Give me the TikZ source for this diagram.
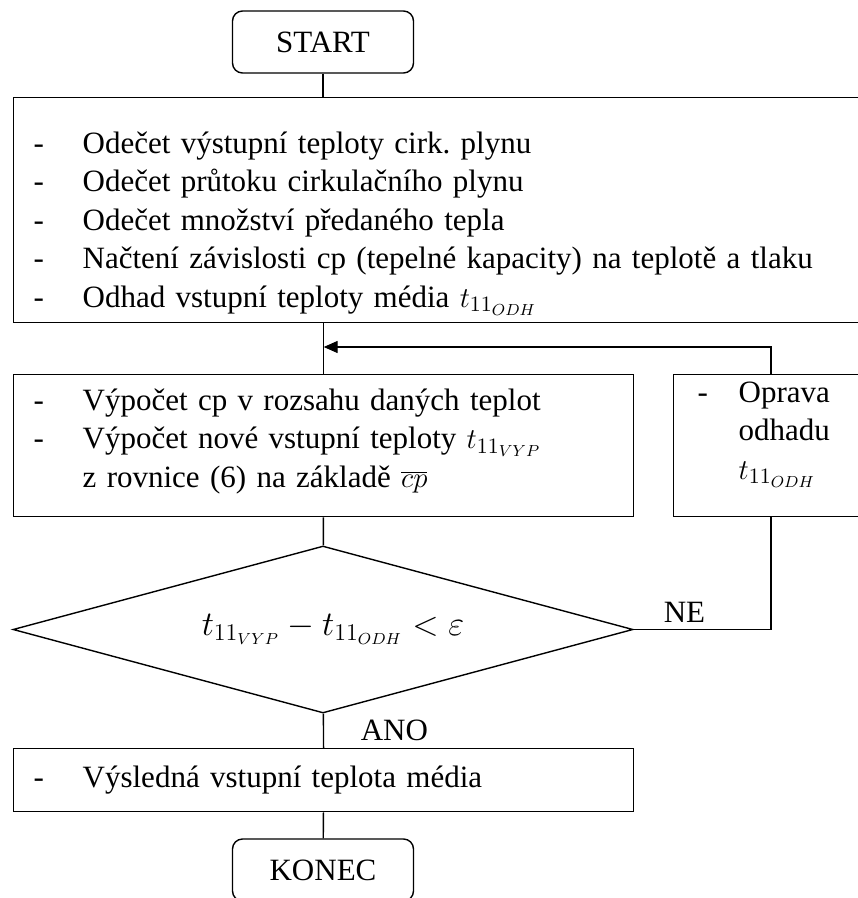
\documentclass[tikz,border=0pt]{standalone}
\usepackage{fontspec}
\setmainfont{Liberation Serif}
\usetikzlibrary{shapes.geometric, arrows.meta}

\newcommand{\pol}{\makebox[24.5pt][l]{-}}
\frenchspacing

\begin{document}
\begin{tikzpicture}[
    x=0.5pt, y=-0.5pt,
    line width=0.7pt,
    every node/.style={font=\fontsize{15.5pt}{19.25pt}\selectfont},
    blok/.style={draw, rectangle, anchor=north west, align=left, inner xsep=10pt, inner ysep=0pt},
    krajni/.style={draw, rectangle, rounded corners=5pt, minimum width=90.5pt, minimum height=31pt},
    podminka/.style={draw, diamond, aspect=3.71, minimum width=310pt, minimum height=83.5pt, inner sep=0pt,
        font=\fontsize{16.7pt}{20pt}\selectfont},
    >={Triangle[length=7pt, width=6pt]}
]
\useasboundingbox (0,0) rectangle (857,898);

   % Start and input data
   \node[krajni] (start) at (323,42) {START};
   \node[blok, text width=413.5pt, minimum height=112.5pt] (nacteni) at (13,97) {\rule{0pt}{24pt}\pol Odečet výstupní teploty cirk. plynu\\
      \pol Odečet průtoku cirkulačního plynu\\
      \pol Odečet množství předaného tepla\\
      \pol Načtení závislosti cp (tepelné kapacity) na teplotě a tlaku\\
      \pol Odhad vstupní teploty média $t_{11_{ODH}}$};

   % Iteration
   \node[blok, text width=290pt, minimum height=71pt] (vypocet) at (13,374) {\pol Výpočet cp v rozsahu daných teplot\\
      \pol Výpočet nové vstupní teploty $t_{11_{VYP}}$\\
      \hspace*{24.5pt}z rovnice (6) na základě $\overline{cp}$\rule[-7.5pt]{0pt}{0pt}};
   \node[blok, inner xsep=12pt, text width=79.5pt, minimum height=71pt] (oprava) at (673,374) {\makebox[20.5pt][l]{-}Oprava\\
      \hspace*{20.5pt}odhadu\\
      \hspace*{20.5pt}$t_{11_{ODH}}$\rule[-15pt]{0pt}{0pt}};
   \node[podminka] (test) at (323,629.5) {\hspace*{10pt}$t_{11_{VYP}} - t_{11_{ODH}} < \varepsilon$};

   % Result
   \node[blok, text width=290pt, minimum height=31.5pt] (vysledek) at (13,748) {\pol Výsledná vstupní teplota média};
   \node[krajni] (konec) at (323,870) {KONEC};

   % Connections
   \coordinate (zpet) at (771,347);
   \draw (start) -- (start |- nacteni.north);
   \draw (nacteni.south -| vypocet.north) -- (vypocet.north);
   \draw[->] (oprava.north -| zpet) -- (zpet) -- (zpet -| vypocet.north);
   \draw (vypocet) -- (test);
   \draw (test.east) -- node[above, pos=0.37] {NE} (test.east -| zpet) -- (oprava.south -| zpet);
   \draw (test) -- node[right=15pt] {ANO} (vysledek);
   \draw (vysledek) -- (konec);
\end{tikzpicture}
\end{document}
